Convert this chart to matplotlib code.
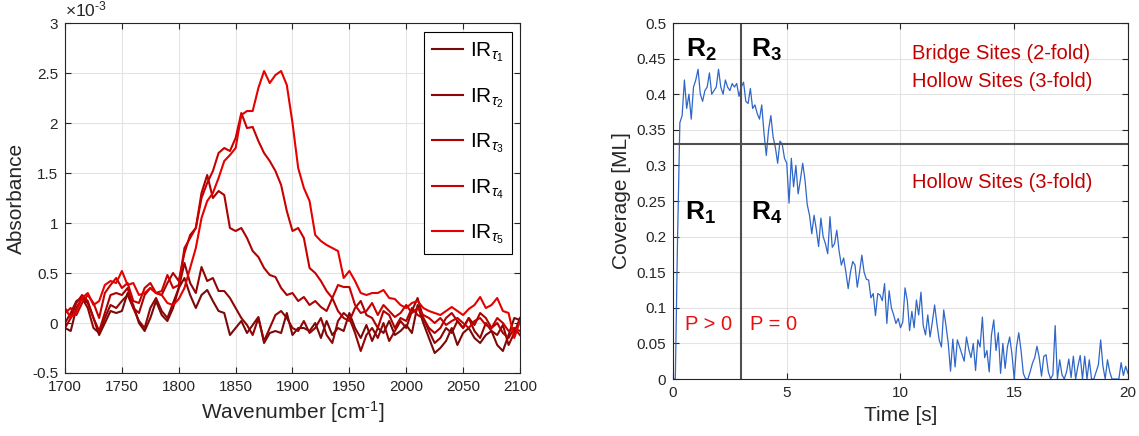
import numpy as np
import matplotlib
matplotlib.use("Agg")
import matplotlib.pyplot as plt

plt.rcParams['font.family'] = ['Liberation Sans', 'DejaVu Sans']
plt.rcParams['mathtext.fontset'] = 'custom'
plt.rcParams['mathtext.rm'] = 'Liberation Sans'
plt.rcParams['mathtext.it'] = 'Liberation Sans:italic'
plt.rcParams['mathtext.bf'] = 'Liberation Sans:bold'
plt.rcParams['axes.unicode_minus'] = False

# ---- left panel: IR spectra (absorbance in units of 1e-3) ----
wavenumber = np.arange(1700, 2101, 5)

ir_tau1 = [-0.05, -0.08, 0.15, 0.25, 0.20, 0.05, -0.12, 0.00, 0.12, 0.10,
           0.12, 0.30, 0.18, 0.00, -0.08, 0.05, 0.22, 0.08, 0.02, 0.15,
           0.35, 0.45, 0.28, 0.15, 0.28, 0.33, 0.22, 0.12, 0.10, -0.12,
           -0.05, 0.02, -0.10, -0.02, 0.06, -0.20, -0.10, -0.08, -0.10, 0.10,
           -0.12, -0.05, -0.05, -0.08, 0.00, -0.15, 0.02, -0.12, -0.05, -0.08,
           0.10, -0.05, -0.15, -0.02, -0.18, -0.05, -0.10, 0.02, -0.12, -0.08,
           -0.02, -0.10, 0.18, 0.00, -0.15, -0.30, -0.25, -0.18, -0.05, -0.22,
           -0.10, -0.05, -0.15, -0.20, -0.12, -0.08, -0.22, -0.28, -0.12, 0.05,
           0.03]
ir_tau2 = [0.00, 0.10, 0.22, 0.25, 0.15, -0.05, -0.10, 0.05, 0.18, 0.15,
           0.22, 0.28, 0.15, 0.02, -0.05, 0.15, 0.25, 0.12, 0.05, 0.20,
           0.35, 0.60, 0.40, 0.30, 0.56, 0.42, 0.45, 0.32, 0.32, 0.25,
           0.15, 0.05, -0.02, -0.12, 0.05, -0.18, -0.05, 0.08, 0.12, 0.05,
           -0.05, -0.08, 0.02, -0.10, -0.05, 0.05, -0.12, -0.20, 0.02, 0.10,
           0.05, -0.10, -0.28, -0.12, -0.05, -0.15, 0.00, -0.18, -0.08, 0.02,
           -0.05, 0.12, 0.25, 0.05, -0.08, -0.20, -0.15, -0.05, -0.10, 0.02,
           -0.05, 0.05, -0.08, -0.15, 0.00, -0.08, -0.12, -0.02, -0.22, -0.10,
           0.05]
ir_tau3 = [-0.05, 0.05, 0.20, 0.28, 0.22, 0.05, -0.08, 0.10, 0.28, 0.30,
           0.28, 0.35, 0.15, 0.10, 0.28, 0.35, 0.30, 0.28, 0.40, 0.50,
           0.42, 0.70, 0.88, 0.95, 1.30, 1.48, 1.25, 1.32, 1.28, 0.95,
           0.92, 0.95, 0.85, 0.72, 0.66, 0.55, 0.48, 0.46, 0.35, 0.28,
           0.30, 0.22, 0.26, 0.18, 0.22, 0.16, 0.12, 0.25, 0.12, 0.05,
           0.02, 0.15, 0.22, 0.08, 0.05, -0.05, 0.12, 0.08, -0.05, 0.05,
           0.02, 0.15, 0.08, 0.05, -0.05, -0.10, -0.05, 0.05, 0.10, 0.02,
           -0.05, 0.05, -0.02, 0.10, 0.05, -0.05, 0.00, -0.10, -0.15, -0.05,
           -0.12]
ir_tau4 = [0.10, 0.15, 0.08, 0.20, 0.28, 0.20, 0.05, 0.30, 0.38, 0.45,
           0.35, 0.40, 0.22, 0.20, 0.35, 0.40, 0.30, 0.32, 0.48, 0.35,
           0.38, 0.75, 0.85, 0.95, 1.25, 1.40, 1.52, 1.70, 1.75, 1.72,
           1.85, 2.10, 1.95, 1.96, 1.82, 1.70, 1.62, 1.52, 1.38, 1.12,
           0.92, 0.95, 0.85, 0.55, 0.50, 0.42, 0.32, 0.25, 0.38, 0.36,
           0.36, 0.18, 0.10, 0.12, 0.20, 0.08, 0.18, 0.12, 0.06, 0.10,
           0.18, 0.10, 0.15, 0.08, 0.05, 0.00, 0.05, -0.02, 0.02, 0.05,
           0.00, -0.05, 0.02, 0.05, -0.02, -0.05, 0.05, 0.00, -0.08, -0.05,
           -0.08]
ir_tau5 = [0.15, 0.05, 0.12, 0.25, 0.30, 0.18, 0.22, 0.38, 0.42, 0.40,
           0.52, 0.38, 0.40, 0.28, 0.30, 0.35, 0.30, 0.28, 0.20, 0.18,
           0.24, 0.35, 0.55, 0.75, 1.05, 1.22, 1.30, 1.45, 1.62, 1.68,
           1.75, 2.08, 2.12, 2.12, 2.35, 2.52, 2.40, 2.48, 2.52, 2.38,
           2.00, 1.55, 1.35, 1.22, 0.88, 0.82, 0.78, 0.75, 0.72, 0.45,
           0.52, 0.42, 0.30, 0.28, 0.30, 0.30, 0.33, 0.25, 0.24, 0.18,
           0.15, 0.20, 0.22, 0.15, 0.12, 0.10, 0.08, 0.12, 0.16, 0.12,
           0.08, 0.14, 0.18, 0.26, 0.15, 0.18, 0.25, 0.12, 0.10, -0.15,
           0.02]
ir_series = [ir_tau1, ir_tau2, ir_tau3, ir_tau4, ir_tau5]
ir_labels = [r'IR$_{\tau_{%d}}$' % k for k in range(1, 6)]
ir_colors = ['#7a0a0a', '#930404', '#ad0202', '#c90000', '#e60000']

# ---- right panel: coverage vs time ----
time_s = np.linspace(0, 20, 201)
coverage = [0.0, 0.0, 0.20, 0.36, 0.37, 0.42, 0.38, 0.40, 0.365, 0.41,
            0.42, 0.435, 0.40, 0.39, 0.405, 0.41, 0.43, 0.40, 0.405, 0.41,
            0.435, 0.41, 0.40, 0.42, 0.41, 0.405, 0.415, 0.41, 0.415, 0.397,
            0.41, 0.417, 0.39, 0.387, 0.408, 0.38, 0.385, 0.373, 0.365, 0.385,
            0.345, 0.314, 0.35, 0.37, 0.34, 0.325, 0.303, 0.334, 0.33, 0.31,
            0.303, 0.247, 0.31, 0.27, 0.30, 0.26, 0.28, 0.303, 0.28, 0.245,
            0.23, 0.204, 0.23, 0.21, 0.186, 0.226, 0.20, 0.19, 0.176, 0.228,
            0.185, 0.19, 0.209, 0.18, 0.16, 0.17, 0.15, 0.127, 0.15, 0.165,
            0.16, 0.129, 0.15, 0.174, 0.15, 0.14, 0.139, 0.114, 0.12, 0.089,
            0.12, 0.118, 0.11, 0.134, 0.078, 0.124, 0.10, 0.09, 0.078, 0.085,
            0.072, 0.08, 0.128, 0.11, 0.068, 0.095, 0.072, 0.111, 0.09, 0.122,
            0.075, 0.062, 0.09, 0.059, 0.08, 0.104, 0.078, 0.055, 0.045, 0.097,
            0.075, 0.05, 0.011, 0.056, 0.017, 0.055, 0.045, 0.035, 0.025, 0.059,
            0.042, 0.03, 0.05, 0.012, 0.055, 0.045, 0.087, 0.03, 0.04, 0.01,
            0.062, 0.083, 0.04, 0.065, 0.008, 0.05, 0.015, 0.045, 0.059, 0.035,
            0.0, 0.045, 0.065, 0.04, 0.008, 0.0, 0.0, 0.01, 0.022, 0.03,
            0.046, 0.03, 0.004, 0.032, 0.034, 0.01, 0.0, 0.006, 0.075, 0.0,
            0.027, 0.006, 0.0, 0.01, 0.028, 0.002, 0.032, 0.0, 0.018, 0.033,
            0.0, 0.032, 0.0, 0.027, 0.0, 0.0, 0.01, 0.02, 0.055, 0.018,
            0.0, 0.027, 0.01, 0.0, 0.0, 0.0, 0.0, 0.023, 0.005, 0.018,
            0.008]
t_switch = 3
cov_split = 0.33

ax_color = '#262626'
grid_color = '#e3e3e3'


def style_axes(ax):
    ax.grid(True, color=grid_color, lw=0.8)
    ax.set_axisbelow(True)
    for sp in ax.spines.values():
        sp.set_color(ax_color)
        sp.set_linewidth(0.8)
    ax.tick_params(direction='in', top=True, right=True, length=4,
                   width=0.8, colors=ax_color, labelsize=11, pad=5)


fig = plt.figure(figsize=(11.39, 4.36), dpi=100)
ax1 = fig.add_axes([0.0571, 0.1445, 0.3994, 0.8027])
ax2 = fig.add_axes([0.5909, 0.1307, 0.3994, 0.8165])

# left panel
for vals, lab, col in zip(ir_series, ir_labels, ir_colors):
    ax1.plot(wavenumber, vals, color=col, lw=1.5, label=lab)
ax1.set_xlim(1700, 2100)
ax1.set_ylim(-0.5, 3)
ax1.set_xticks(np.arange(1700, 2101, 50))
ax1.set_yticks(np.arange(-0.5, 3.01, 0.5))
ax1.set_yticklabels(['-0.5', '0', '0.5', '1', '1.5', '2', '2.5', '3'])
style_axes(ax1)
ax1.set_xlabel(r'Wavenumber [cm$^{\text{-}1}$]', fontsize=15, color=ax_color)
ax1.set_ylabel('Absorbance', fontsize=15, color=ax_color)
ax1.text(0.0, 1.01, r'$\times$10$^{\text{-}3}$', transform=ax1.transAxes,
         fontsize=12.5, color=ax_color, va='bottom', ha='left')
leg = ax1.legend(loc='upper right', bbox_to_anchor=(0.982, 0.974),
                 borderaxespad=0, fontsize=15, handlelength=1.5,
                 labelspacing=1.05, fancybox=False, framealpha=1,
                 edgecolor='black', handletextpad=0.3, borderpad=0.4)
leg.get_frame().set_linewidth(0.8)

# right panel
ax2.plot(time_s, coverage, color='#2f66c8', lw=0.9)
ax2.axvline(t_switch, color='#505050', lw=1.5)
ax2.axhline(cov_split, color='#505050', lw=1.5)
ax2.set_xlim(0, 20)
ax2.set_ylim(0, 0.5)
ax2.set_xticks([0, 5, 10, 15, 20])
ax2.set_yticks(np.arange(0, 0.501, 0.05))
ax2.set_yticklabels(['0', '0.05', '0.1', '0.15', '0.2', '0.25', '0.3',
                     '0.35', '0.4', '0.45', '0.5'])
style_axes(ax2)
ax2.set_xlabel('Time [s]', fontsize=15, color=ax_color)
ax2.set_ylabel('Coverage [ML]', fontsize=15, color=ax_color)

for lab, (tx, ty) in zip(['R_2', 'R_3', 'R_1', 'R_4'],
                         [(0.55, 0.452), (3.43, 0.452), (0.53, 0.223), (3.43, 0.223)]):
    ax2.text(tx, ty, r'$\mathbf{%s}$' % lab, fontsize=19, color='black',
             va='baseline', ha='left')
ax2.text(0.53, 0.069, 'P > 0', fontsize=14.5, color='#e61010', va='baseline')
ax2.text(3.38, 0.069, 'P = 0', fontsize=14.5, color='#e61010', va='baseline')
ax2.text(10.5, 0.449, 'Bridge Sites (2-fold)', fontsize=14.5, color='#c20000', va='baseline')
ax2.text(10.5, 0.41, 'Hollow Sites (3-fold)', fontsize=14.5, color='#c20000', va='baseline')
ax2.text(10.5, 0.268, 'Hollow Sites (3-fold)', fontsize=14.5, color='#c20000', va='baseline')

fig.savefig('out.png', dpi=100)
